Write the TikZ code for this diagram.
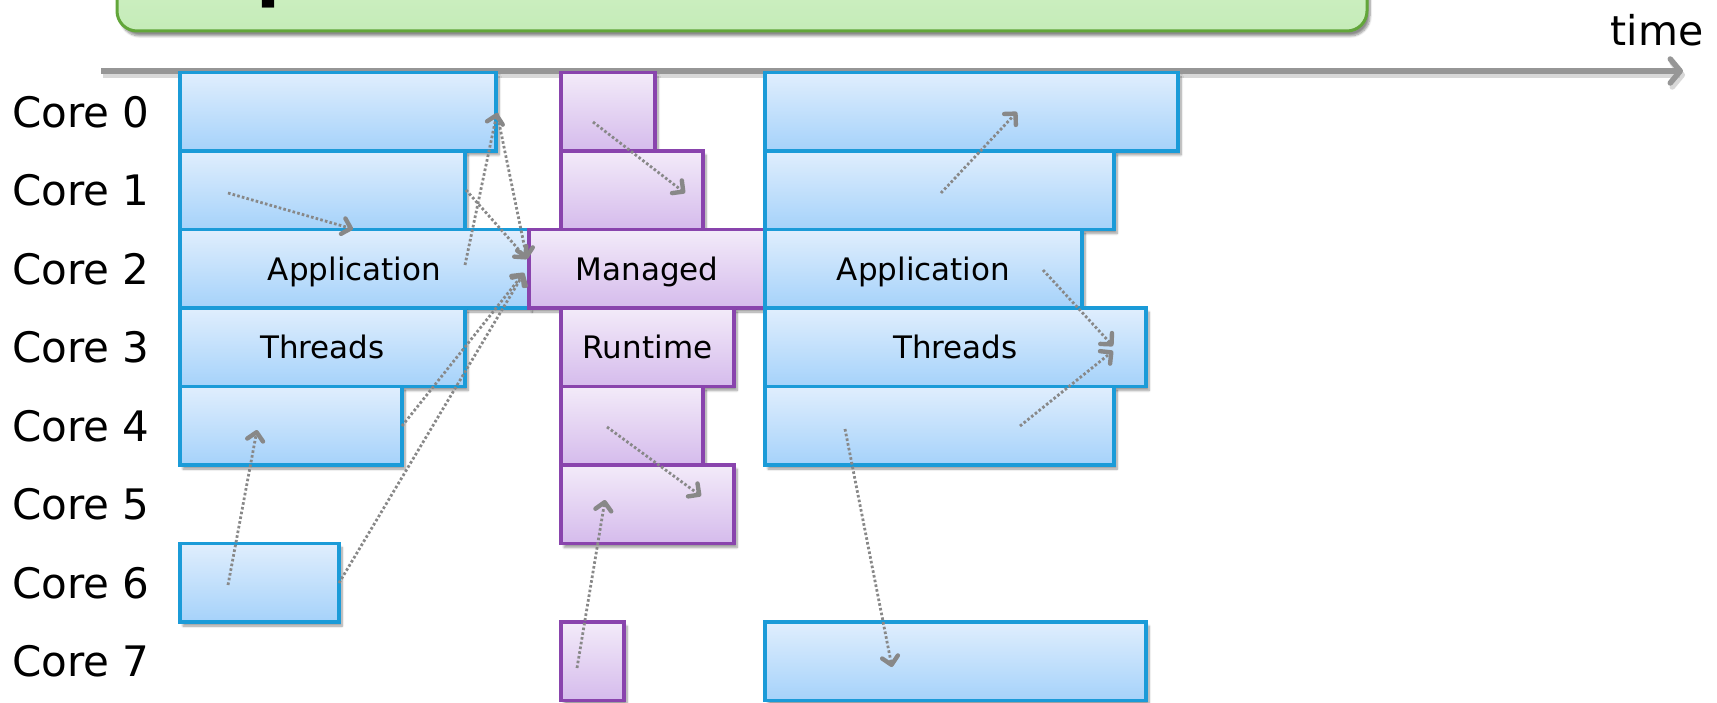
\documentclass[tikz,border=0pt]{standalone}
\usepackage{fontspec}
\setmainfont{DejaVu Sans}
\usetikzlibrary{arrows.meta,shadows.blur}

\definecolor{appTop}{RGB}{224,238,253}
\definecolor{appBot}{RGB}{165,210,250}
\definecolor{appLine}{RGB}{27,155,216}
\definecolor{rtTop}{RGB}{243,235,249}
\definecolor{rtBot}{RGB}{213,187,236}
\definecolor{rtLine}{RGB}{137,68,173}
\definecolor{ttlTop}{RGB}{213,242,205}
\definecolor{ttlBot}{RGB}{197,236,184}
\definecolor{ttlLine}{RGB}{98,166,58}
\definecolor{flowGray}{RGB}{136,136,136}
\definecolor{axisGray}{RGB}{150,150,150}

% one time slice of one core: style, name, left x, right x, row, text
\newcommand\corebox[6]{%
  \pgfmathsetmacro\bxw{#4-#3}%
  \pgfmathsetmacro\bxc{(#3+#4)/2}%
  \pgfmathsetmacro\bxy{111.75+78.5*#5}%
  \node[#1, minimum width=\bxw pt, minimum height=78.5pt] (#2) at (\bxc,\bxy) {#6};}

\begin{document}
\begin{tikzpicture}[x=1pt,y=-1pt,
  cell/.style={draw, line width=3.2pt, inner sep=0pt, text height=23.5pt, text depth=0pt,
    font=\fontsize{31}{37}\selectfont,
    blur shadow={shadow xshift=3pt, shadow yshift=-4pt, shadow blur steps=7, shadow opacity=40}},
  app/.style={cell, draw=appLine, top color=appTop, bottom color=appBot},
  rt/.style={cell, draw=rtLine, top color=rtTop, bottom color=rtBot},
  titlebox/.style={draw=ttlLine, line width=3pt, rounded corners=20pt, top color=ttlTop, bottom color=ttlBot,
    blur shadow={shadow xshift=3pt, shadow yshift=-5pt, shadow blur steps=8, shadow opacity=45}},
  corelabel/.style={anchor=west, inner sep=0pt, font=\fontsize{42}{50}\selectfont},
  flow/.style={draw=flowGray, line width=2.8pt, dash pattern=on 2.6pt off 2.2pt,
    -{Straight Barb[length=8pt,width=16pt,line width=4.4pt,round]}},
  axis/.style={draw=axisGray, line width=5.5pt,
    -{Straight Barb[length=10pt,width=24pt,line width=5.5pt,round]}},
  axisshadow/.style={draw=black!30, opacity=0.5, line width=5.5pt,
    -{Straight Barb[length=10pt,width=24pt,line width=5.5pt,round]}},
]
\clip (0,0) rectangle (1717,703);

% title banner
\node[titlebox, minimum width=1250pt, minimum height=101pt] (title) at (742,-19.5) {};
\node[anchor=base west, inner sep=0pt, font=\bfseries\fontsize{70}{84}\selectfont] (titletext) at (256.6,-6.6) {p};

% time axis
\coordinate (t0) at (101,71);
\coordinate (t1) at (1683,71);
\draw[axisshadow] ([shift={(2pt,-4pt)}]t0) -- ([shift={(2pt,-4pt)}]t1);
\draw[axis] (t0) -- (t1);
\node[anchor=base, inner sep=0pt, font=\fontsize{41}{49}\selectfont] (time) at (1657,46) {time};

% core labels
\foreach \k in {0,...,7}
  \node[corelabel] (core\k) at (12,111.75+78.5*\k) {Core \k};

% application threads, first phase
\corebox{app}{a0}{180}{496}{0}{}
\corebox{app}{a1}{180}{465}{1}{}
\corebox{app}{a2}{180}{529}{2}{Application}
\corebox{app}{a3}{180}{465}{3}{Threads}
\corebox{app}{a4}{180}{402}{4}{}
\corebox{app}{a6}{180}{339}{6}{}

% managed runtime
\corebox{rt}{m0}{561}{655}{0}{}
\corebox{rt}{m1}{561}{703}{1}{}
\corebox{rt}{m2}{529}{765}{2}{Managed}
\corebox{rt}{m3}{561}{734}{3}{Runtime}
\corebox{rt}{m4}{561}{703}{4}{}
\corebox{rt}{m5}{561}{734}{5}{}
\corebox{rt}{m7}{561}{624}{7}{}

% application threads, second phase
\corebox{app}{b0}{765}{1178}{0}{}
\corebox{app}{b1}{765}{1114}{1}{}
\corebox{app}{b2}{765}{1082}{2}{Application}
\corebox{app}{b3}{765}{1146}{3}{Threads}
\corebox{app}{b4}{765}{1114}{4}{}
\corebox{app}{b7}{765}{1146}{7}{}

% end points of the hand-offs between cores
\coordinate (pa1) at (228,193);  \coordinate (pa2) at (353,229);
\coordinate (pb1) at (465,265);  \coordinate (pb2) at (497,113);
\coordinate (pc1) at (466,190);  \coordinate (pc2) at (527,259);
\coordinate (pd1) at (402,426);  \coordinate (pd2) at (524,273);
\coordinate (pe1) at (339,583);
\coordinate (pf1) at (228,585);  \coordinate (pf2) at (257,430);
\coordinate (qa1) at (593,122);  \coordinate (qa2) at (685,193);
\coordinate (qb1) at (607,427);  \coordinate (qb2) at (701,496);
\coordinate (qc1) at (577,668);  \coordinate (qc2) at (605,500);
\coordinate (ra1) at (941,193);  \coordinate (ra2) at (1017,112);
\coordinate (rb1) at (1043,270); \coordinate (rb2) at (1113,346);
\coordinate (rc1) at (1020,426); \coordinate (rc2) at (1113,351);
\coordinate (rd1) at (845,429);  \coordinate (rd2) at (892,667);

\draw[flow] (pa1) -- (pa2);
\draw[flow] (pb1) -- (pb2);
\draw[flow] (pb2) -- (pc2);
\draw[flow] (pc1) -- (pc2);
\draw[flow] (pd1) -- (pd2);
\draw[flow] (pe1) -- (pd2);
\draw[flow] (pf1) -- (pf2);
\draw[flow] (qa1) -- (qa2);
\draw[flow] (qb1) -- (qb2);
\draw[flow] (qc1) -- (qc2);
\draw[flow] (ra1) -- (ra2);
\draw[flow] (rb1) -- (rb2);
\draw[flow] (rc1) -- (rc2);
\draw[flow] (rd1) -- (rd2);
\end{tikzpicture}
\end{document}
